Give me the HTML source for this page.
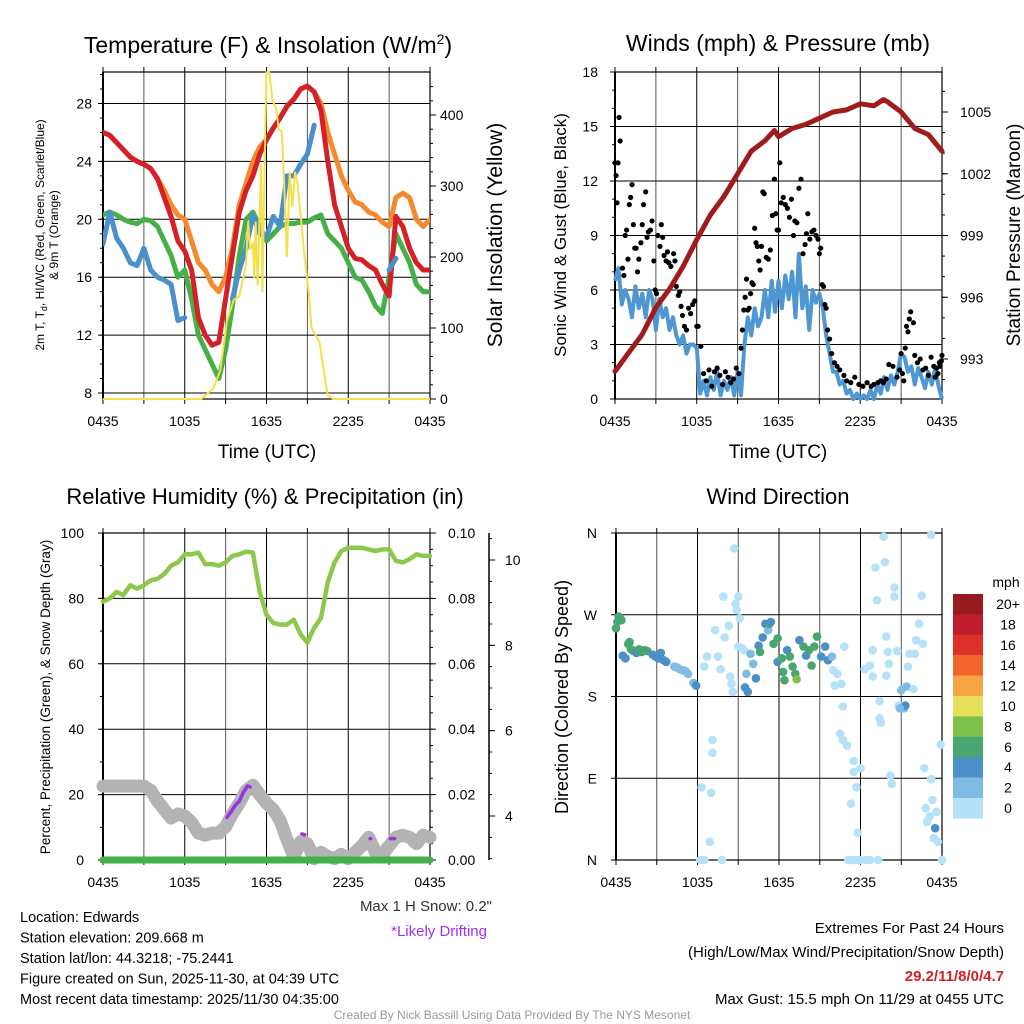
<!DOCTYPE html>
<html><head><meta charset="utf-8"><style>
body{margin:0;background:#fff;}
svg{display:block;font-family:"Liberation Sans",sans-serif;}
</style></head><body>
<svg id="c" width="1024" height="1024" viewBox="0 0 1024 1024" xmlns="http://www.w3.org/2000/svg"></svg>
<script>
// ---------- DATA ----------
const tempTimesHalfHour = [0,0.5,1,1.5,2,2.5,3,3.5,4,4.5,5,5.5,6,6.5,7,7.5,8,8.5,9,9.5,10,10.5,11,11.5,12,12.5,13,13.5,14,14.5,15,15.5,16,16.5,17,17.5,18,18.5,19,19.5,20,20.5,21,21.5,22,22.5,23,23.5,24];
const temp2m = [26,25.8,25.3,24.8,24.3,24.0,23.8,23.5,22.8,21.5,20.2,18.5,17.8,16.5,13.2,12,11.3,11.5,14.5,17.5,20.5,22,23,24.5,25.5,26.3,27,27.8,28.3,29,29.2,28.8,27.5,24,21,19.5,18,17.3,17.2,16.8,16.5,15.5,14.7,20.2,19.5,18,17,16.5,16.5];
const temp9m = [26,25.8,25.3,24.8,24.3,24.0,23.8,23.5,22.8,22,21,20.3,20,18.5,17,16.5,15.5,15,16,18,21,22.5,24,25,25.5,26.3,27,27.8,28.3,29,29.2,28.8,28,26,24.5,23,22,21.2,21,20.5,20.3,19.8,19.5,21.5,21.8,21.5,20,19.5,20];
const dewpoint = [20.3,20.5,20.3,20,19.8,19.7,20,19.9,19.5,18.5,17.5,16,16.5,14.5,12,11,10,9,11,14,17.5,20,20.5,19.5,18.5,19,19.5,19.7,19.7,19.8,19.8,20.1,20.3,19,18.5,18,17,16,15.8,15,14,13.5,16,19,18,17,15.5,15,15];
const windChill = [18.3,20.5,18.7,18,17,16.8,18,16.5,16,15.8,15.5,13,13.2,null,null,null,null,null,null,14.5,16.5,18,20.3,19,18.8,20.2,19.5,23,23,23.8,24.5,26.5,null,null,null,null,null,null,null,null,null,null,16.5,17.3,null,null,null,null,null];
const solTimes = [0,7.2,8.1,8.6,9.1,9.6,10.0,10.5,10.65,10.8,11.0,11.1,11.2,11.35,11.6,11.7,11.85,12.0,12.2,12.45,12.7,12.9,13.1,13.2,13.3,13.5,13.7,13.9,14.1,14.3,14.6,14.8,15.1,15.3,15.6,15.9,16.2,16.5,16.9,24];
const solVals  = [0,0,15,40,110,140,145,190,250,210,220,170,250,160,330,150,320,460,460,420,410,380,377,350,300,200,320,270,320,300,240,200,150,100,90,80,40,5,0,0];

const windTimes = [0,.25,.5,.75,1,1.25,1.5,1.75,2,2.25,2.5,2.75,3,3.25,3.5,3.75,4,4.25,4.5,4.75,5,5.25,5.5,5.75,6,6.25,6.5,6.75,7,7.25,7.5,7.75,8,8.25,8.5,8.75,9,9.25,9.5,9.75,10,10.25,10.5,10.75,11,11.25,11.5,11.75,12,12.25,12.5,12.75,13,13.25,13.5,13.75,14,14.25,14.5,14.75,15,15.25,15.5,15.75,16,16.25,16.5,16.75,17,17.25,17.5,17.75,18,18.25,18.5,18.75,19,19.25,19.5,19.75,20,20.25,20.5,20.75,21,21.25,21.5,21.75,22,22.25,22.5,22.75,23,23.25,23.5,23.75,24];
const windSpeed = [6.5,7.2,5.2,6,5.5,4.5,6.2,5,5.8,4.5,6,5.5,3.8,5.5,4.5,5,3.8,4.5,3.5,3,3.5,2.5,3,3,2.8,0.3,1,0.2,1.2,0.5,1.5,0.2,1,0.5,1.2,0.2,1.5,0.2,3,4.5,3.5,5,4,4.5,6,4.5,6.5,4.8,6.5,5,6.8,5.5,7,4.5,8,5,6.2,3.8,6,5.3,5.8,5,3.5,2.5,1.5,1.5,0.8,1,0.3,0.5,0,0.3,0,0.2,0,0.5,0,0.8,0.3,1.2,0.5,1.3,0.8,1.5,2.5,2.3,1.5,1.8,0.8,1.7,1.2,0.6,1.5,0.8,1.7,0.7,0];
const gustTimes = [0,0.08,0.15,0.22,0.3,0.38,0.55,0.65,0.75,0.85,0.95,1.05,1.15,1.25,1.35,1.45,1.55,1.65,1.75,1.9,2.0,2.1,2.25,2.35,2.45,2.6,2.72,2.85,2.95,3.05,3.15,3.3,3.4,3.5,3.6,3.75,3.85,3.95,4.1,4.3,4.4,4.5,4.65,4.75,4.85,4.95,5.1,5.25,5.4,5.55,5.7,5.85,6.0,6.1,6.3,6.5,6.7,6.9,7.1,7.3,7.5,7.7,7.9,8.1,8.3,8.5,8.7,8.9,9.1,9.25,9.35,9.45,9.55,9.65,9.75,9.85,9.95,10.05,10.15,10.25,10.35,10.45,10.55,10.65,10.75,10.85,10.95,11.1,11.25,11.4,11.55,11.7,11.8,11.9,12.0,12.1,12.2,12.35,12.5,12.65,12.8,12.95,13.1,13.2,13.35,13.5,13.65,13.8,13.95,14.05,14.15,14.3,14.45,14.6,14.75,14.9,15.0,15.1,15.2,15.3,15.4,15.5,15.6,15.75,15.9,16.1,16.3,16.5,16.8,17.0,17.3,17.6,17.9,18.2,18.5,18.8,19.0,19.3,19.5,19.7,19.9,20.1,20.4,20.7,20.9,21.0,21.1,21.2,21.3,21.4,21.5,21.6,21.7,21.9,22.0,22.2,22.4,22.6,22.8,23.0,23.2,23.4,23.5,23.6,23.7,23.8,23.85,23.95,24.0];
const gustVals  = [13,12.3,10.8,13,15.5,14.2,7.2,6.8,9,9.3,7.7,10.7,11.1,11.8,9.6,8.3,8.3,7,7.7,8.6,9.6,10.7,11.4,8.9,9.2,9.3,9.8,7.6,6,5.8,9,8.4,9.6,8.9,7.9,7.6,8.1,7.5,7.3,8,7.6,6.2,5.7,5.9,5.1,4.6,4,3.8,5,4.7,5.2,5.4,4,4,2.9,1.4,1,1.6,0.7,1.5,1.7,1.3,0.8,1.5,1.2,0.9,1.1,1.7,1.4,2.8,3.8,4.9,5.6,6.6,4.9,5,5.8,6.4,6.3,9.4,8.6,8.4,7.6,7.1,8.4,11.4,11.3,7.8,7.7,8.2,10.1,12.1,10.2,9.3,9.3,13,10.8,11.1,10.7,10.5,10,11,9,9.8,9.7,11.6,12.1,8,8.5,9.1,10.2,8.8,9.2,9.3,9,8.8,8,8.3,6.3,6.2,5.2,5,3.8,3.3,2.5,2,1.8,1.6,1.3,1.0,0.9,1.2,0.8,0.7,0.9,0.7,0.8,0.9,1,0.9,1.1,1.9,1.8,1.2,1.6,2.5,1.4,1.0,2.8,4,3.7,4.4,4.8,4.2,2.4,2,2.2,1.6,1.7,1.3,2.3,1.8,1.2,1.7,1.4,2,1.8,2.1,2.4,3.2,2.4,1.4,0.8];
const presTimes = [0,1,2,3,4,5,6,7,8,9,10,11,11.7,12,13,14,15,16,17,18,19,19.7,20,21,22,23,24];
const presVals  = [992.4,993.3,994.2,995.5,996.4,997.5,998.8,1000,1000.9,1002,1003.1,1003.6,1004.1,1003.8,1004.2,1004.4,1004.7,1005,1005.1,1005.4,1005.3,1005.6,1005.5,1005,1004.2,1003.9,1003.1];

const rhVals = [79,80,82,81,84,83,84,85.5,86,87.5,90,91,93.5,93.5,94,90.5,90.5,90,91,93,93.5,94.3,94,82,75,72.5,72,72,73.5,69,66.5,71,74,85,91,94.5,95.5,95.5,95.5,95,94.5,95,95,91.5,91,92,93.5,93,93];
const snowVals = [4.7,4.7,4.7,4.7,4.7,4.7,4.7,4.6,4.35,4.15,3.95,4.05,4.0,3.85,3.6,3.55,3.6,3.6,3.75,4.05,4.3,4.6,4.72,4.5,4.3,4.15,3.9,3.45,3.05,3.4,3.35,3.0,3.15,3.05,3.0,3.1,3.0,3.15,3.3,3.5,3.15,3.1,3.3,3.5,3.55,3.5,3.35,3.55,3.5];
const precipVals = [0,0,0,0,0,0,0,0,0,0,0,0,0,0,0,0,0,0,0,0,0,0,0,0,0,0,0,0,0,0,0,0,0,0,0,0,0,0,0,0,0,0,0,0,0,0,0,0,0];
const driftSeg1T = [9.1,9.4,9.7,10.0,10.3,10.6,10.8];
const driftSeg1V = [3.97,4.1,4.25,4.35,4.55,4.7,4.68];
const driftSeg2T = [14.6,14.8];
const driftSeg2V = [3.58,3.56];
const driftSeg3T = [19.6];
const driftSeg3V = [3.47];
const driftSeg4T = [21.1,21.4];
const driftSeg4V = [3.47,3.47];

const dirTimes = [
0.0,0.1,0.2,0.3,0.4,0.5,0.7,0.9,1.0,1.1,
1.3,1.5,1.7,1.9,2.1,2.3,2.7,2.9,3.1,3.3,
3.5,3.7,4.3,4.5,4.7,4.9,5.1,5.3,5.7,5.9,
6.3,7.0,6.9,6.2,6.5,7.8,7.1,7.1,6.5,6.7,
7.3,7.5,7.7,7.9,8.0,8.3,8.4,8.5,8.6,8.7,
8.8,8.9,9.0,9.1,9.0,9.3,9.4,9.5,9.6,9.7,
9.9,10.1,10.3,10.5,10.6,10.8,11.0,11.2,11.3,11.4,
11.6,11.9,11.9,12.2,12.3,12.4,12.6,12.8,13.0,13.2,
13.3,13.5,13.8,14.0,14.2,14.4,14.6,14.8,15.1,15.4,
15.6,15.9,16.0,16.3,16.1,16.6,16.8,16.7,16.5,16.7,
17.0,17.5,17.5,18.0,17.7,17.3,17.8,17.1,17.4,17.7,
18.0,18.4,18.7,19.3,18.3,18.7,18.9,18.9,19.1,19.2,
19.4,19.4,19.5,19.7,19.8,19.9,19.9,20.0,20.1,20.2,
20.3,20.5,20.5,20.7,20.8,21.0,21.2,21.3,21.4,20.9,
21.5,21.6,21.9,22.0,22.1,22.3,22.5,22.6,22.7,22.8,
22.9,23.1,23.2,23.2,23.3,23.5,23.6,23.7,23.9,24.0,
23.4,17.2,17.9];
const dirVals = [
255,262,268,266,264,225,222,238,240,232,
230,228,232,229,231,230,226,224,222,228,
220,218,213,212,210,209,208,205,195,192,
80,74,20,0,0,0,132,118,213,224,
253,224,210,290,245,258,202,194,185,343,
282,275,290,266,235,233,231,190,205,185,
227,216,200,236,229,245,260,253,260,262,
238,244,218,222,207,198,231,224,213,205,
199,242,235,225,231,214,235,246,224,235,
220,224,209,205,192,194,235,169,139,132,
126,109,97,101,80,62,30,0,0,0,
0,0,0,0,210,214,202,231,322,286,
175,156,151,356,328,246,203,229,216,93,
84,300,290,230,170,187,167,170,191,167,
213,227,188,227,242,260,291,238,101,57,
42,48,358,89,66,35,53,20,127,0,
24,0,0];
const dirSpeeds = [
6.5,6.5,6.5,6.5,6.5,4.5,4.5,6.5,6.5,6.5,
6.5,5,6.5,6.5,6.5,6.5,4.5,4.5,4.5,4.5,
4.5,4.5,3,3,3,3,3,3,3.5,4.5,
1,1,1,1,1,1,1,1,1,1,
1,1,1,1,1,1,1,1,1,1,
1,1,1,1,1,1,1,4.5,3,4.5,
3,3,4.5,4.5,6.5,4.5,4.5,3,6.5,4.5,
6.5,6.5,4.5,6.5,6.5,6.5,4.5,6.5,6.5,6.5,
8.5,4.5,6.5,4.5,6.5,6.5,6.5,6.5,4.5,4.5,
4,3.5,1,1,1,1,1,1,1,1,
1,1,1,1,1,1,1,1,1,1,
1,1,1,1,1,1,1,1,1,1,
1,1,1,1,1,1,1,1,1,1,
1,1,1,1,1,3,3,4.5,3,3,
1,1,1,1,1,1,1,1,1,1,
1,1,1,1,1,4.5,1,1,1,1,
1,1,1];

const cbLabels = ["20+","18","16","14","12","10","8","6","4","2","0"];
const cbColors = ["#951b1e","#be1e2d","#dd3128","#f0642b","#f6a544","#e6e05a","#7ec04a","#4aa670","#4a8fc5","#7fbbe4","#b5e2f8"];

// ---------- HELPERS ----------
const NS="http://www.w3.org/2000/svg";
const svg=document.getElementById('c');
function el(tag,attrs,parent){const e=document.createElementNS(NS,tag);for(const k in attrs)e.setAttribute(k,attrs[k]);(parent||svg).appendChild(e);return e;}
function txt(s,x,y,size,anchor,fill,parent,extra){const t=el('text',Object.assign({x:x,y:y,'font-size':size,'text-anchor':anchor||'middle',fill:fill||'#000'},extra||{}),parent);t.textContent=s;return t;}
function scale(d0,d1,r0,r1){return v=>r0+(v-d0)/(d1-d0)*(r1-r0);}
function pathD(ts,vs,xf,yf){let d='',pen=false;for(let i=0;i<ts.length;i++){if(vs[i]==null){pen=false;continue;}d+=(pen?'L':'M')+xf(ts[i]).toFixed(1)+','+yf(vs[i]).toFixed(1);pen=true;}return d;}
function speedColor(s){const idx=Math.min(10,Math.max(0,10-Math.floor(s/2)));return cbColors[idx];}
const xLabels=["0435","1035","1635","2235","0435"];

function frame(g,x0,x1,y0,y1,yTicks,yf,yLabels,leftLabelX){
  for(let h=0;h<=24;h+=3){const x=scale(0,24,x0,x1)(h);
    el('line',{x1:x,x2:x,y1:y0,y2:y1,stroke:(h%6==0)?'#000':'#555','stroke-width':1},g);
    el('line',{x1:x,x2:x,y1:y0-5,y2:y0,stroke:'#000','stroke-width':1},g);
    el('line',{x1:x,x2:x,y1:y1,y2:y1+5,stroke:'#000','stroke-width':1},g);}
  yTicks.forEach((v,i)=>{const y=yf(v);
    el('line',{x1:x0-5,x2:x1,y1:y,y2:y,stroke:'#000','stroke-width':1},g);
    if(yLabels)txt(yLabels[i],leftLabelX,y+5,14,'end','#000',g);});
  el('rect',{x:x0,y:y0,width:x1-x0,height:y1-y0,fill:'none',stroke:'#000','stroke-width':1.2},g);
  el('line',{x1:x0,x2:x0,y1:y0,y2:y1,stroke:'#000','stroke-width':2},g);
  for(let i=0;i<5;i++){const x=scale(0,24,x0,x1)(i*6);
    const t=txt(xLabels[i],x,y1+27,14,'middle','#000',g);
    
    }
}

// ---------- PANEL 1 ----------
(function(){
const g=el('g',{});
const x0=103,x1=430,y0=72,y1=399;
const xf=scale(0,24,x0,x1), yT=scale(8,28,393,103.5), yS=scale(0,400,399,115);
const tt=el('text',{x:268,y:53,'font-size':23,'text-anchor':'middle',},g);
tt.innerHTML='Temperature (F) &amp; Insolation (W/m<tspan dy="-9" font-size="14">2</tspan><tspan dy="9">)</tspan>';
frame(g,x0,x1,y0,y1,[8,12,16,20,24,28],yT,["8","12","16","20","24","28"],92);
for(let v=8;v<=30;v+=1){el('line',{x1:x0-3,x2:x0,y1:yT(v),y2:yT(v),stroke:'#000'},g);}
[0,100,200,300,400].forEach(v=>{el('line',{x1:x1,x2:x1+6,y1:yS(v),y2:yS(v),stroke:'#000'},g);txt(String(v),x1+10,yS(v)+5,14,'start','#000',g);});
for(let v=0;v<=440;v+=20){el('line',{x1:x1,x2:x1+3,y1:yS(v),y2:yS(v),stroke:'#000'},g);}
const clip=el('clipPath',{id:'cp1'},g);el('rect',{x:x0,y:y0-2,width:x1-x0,height:y1-y0+4},clip);
const series=[[temp9m,'#f5892e','line-9m-temp'],[dewpoint,'#45b048','line-dewpoint'],[temp2m,'#d42027','line-2m-temp'],[windChill,'#4a90cc','line-wind-chill']];
series.forEach(s=>{el('path',{d:pathD(tempTimesHalfHour,s[0],xf,yT),fill:'none',stroke:s[1],'stroke-width':5,'stroke-linejoin':'round','stroke-linecap':'round','clip-path':'url(#cp1)',},g);});
el('path',{d:pathD(solTimes,solVals,xf,yS),fill:'none',stroke:'#f6e04a','stroke-width':2,'clip-path':'url(#cp1)',},g);
const ly=el('text',{'font-size':12,'text-anchor':'middle','transform':'translate(44,235) rotate(-90)',},g);
ly.innerHTML='<tspan x="0" y="0">2m T, T<tspan font-size="9" dy="3">d</tspan><tspan dy="-3">, HI/WC (Red, Green, Scarlet/Blue)</tspan></tspan><tspan x="0" y="14">&amp; 9m T (Orange)</tspan>';
txt('Solar Insolation (Yellow)',0,0,21,'middle','#000',g,{transform:'translate(502,235) rotate(-90)',});
txt('Time (UTC)',267,458,19,'middle','#000',g,{});
})();

// ---------- PANEL 2 ----------
(function(){
const g=el('g',{});
const x0=615,x1=942,y0=72,y1=399;
const xf=scale(0,24,x0,x1), yW=scale(0,18,399,72), yP=scale(993,1005,359,112);
txt('Winds (mph) & Pressure (mb)',778,51,23,'middle','#000',g,{});
frame(g,x0,x1,y0,y1,[0,3,6,9,12,15,18],yW,["0","3","6","9","12","15","18"],598);
for(let v=0;v<=18;v+=1){el('line',{x1:x0-3,x2:x0,y1:yW(v),y2:yW(v),stroke:'#000'},g);}
[993,996,999,1002,1005].forEach(v=>{el('line',{x1:x1,x2:x1+6,y1:yP(v),y2:yP(v),stroke:'#000'},g);txt(String(v),x1+18,yP(v)+5,14,'start','#000',g);});
for(let v=992;v<=1006;v+=1){el('line',{x1:x1,x2:x1+3,y1:yP(v),y2:yP(v),stroke:'#000'},g);}
el('path',{d:pathD(windTimes,windSpeed,xf,yW),fill:'none',stroke:'#4f97d2','stroke-width':4,'stroke-linejoin':'round',},g);
const gg=el('g',{},g);
gustTimes.forEach((t,i)=>{const c=el('circle',{cx:xf(t),cy:yW(gustVals[i]),r:2.6,fill:'#000'},gg);

});
el('path',{d:pathD(presTimes,presVals,xf,yP),fill:'none',stroke:'#a01c1c','stroke-width':5,'stroke-linejoin':'round','stroke-linecap':'round',},g);
txt('Sonic Wind & Gust (Blue, Black)',0,0,17,'middle','#000',g,{transform:'translate(566,235) rotate(-90)',});
txt('Station Pressure (Maroon)',0,0,19,'middle','#000',g,{transform:'translate(1020,235) rotate(-90)',});
txt('Time (UTC)',778,458,19,'middle','#000',g,{});
})();

// ---------- PANEL 3 ----------
(function(){
const g=el('g',{});
const x0=103,x1=430,y0=533,y1=860;
const xf=scale(0,24,x0,x1), yR=scale(0,100,860,533), yS=scale(4,10,816,560);
txt('Relative Humidity (%) & Precipitation (in)',265,504,22,'middle','#000',g,{});
frame(g,x0,x1,y0,y1,[0,20,40,60,80,100],yR,["0","20","40","60","80","100"],84);
for(let v=0;v<=100;v+=10){el('line',{x1:x0-3,x2:x0,y1:yR(v),y2:yR(v),stroke:'#000'},g);}
["0.00","0.02","0.04","0.06","0.08","0.10"].forEach((s,i)=>{const y=yR(i*20);el('line',{x1:x1,x2:x1+6,y1:y,y2:y,stroke:'#000'},g);txt(s,x1+18,y+5,14,'start','#000',g);});
for(let v=0;v<=100;v+=5){el('line',{x1:x1,x2:x1+3,y1:yR(v),y2:yR(v),stroke:'#000'},g);}
el('line',{x1:489,x2:489,y1:y0,y2:y1,stroke:'#000','stroke-width':1.5,},g);
[4,6,8,10].forEach(v=>{el('line',{x1:489,x2:495,y1:yS(v),y2:yS(v),stroke:'#000'},g);txt(String(v),505,yS(v)+5,14,'start','#000',g);});
for(let v=3;v<=10.6;v+=0.5){el('line',{x1:489,x2:492,y1:yS(v),y2:yS(v),stroke:'#000'},g);}
el('path',{d:pathD(tempTimesHalfHour,snowVals,xf,yS),fill:'none',stroke:'#b3b3b3','stroke-width':13,'stroke-linejoin':'round','stroke-linecap':'round',},g);
[[driftSeg1T,driftSeg1V],[driftSeg2T,driftSeg2V],[driftSeg3T,driftSeg3V],[driftSeg4T,driftSeg4V]].forEach(s=>{
  const p=el('path',{d:pathD(s[0],s[1],xf,yS)+(s[0].length==1?'l0.5,0':''),fill:'none',stroke:'#9b30e6','stroke-width':3.5,'stroke-linecap':'round'},g);
  
  });
el('path',{d:pathD(tempTimesHalfHour,precipVals,xf,v=>yR(v*1000)),fill:'none',stroke:'#45b048','stroke-width':7,'stroke-linecap':'round',},g);
el('path',{d:pathD(tempTimesHalfHour,rhVals,xf,yR),fill:'none',stroke:'#8cc84b','stroke-width':4.5,'stroke-linejoin':'round','stroke-linecap':'round',},g);
txt('Percent, Precipitation (Green), & Snow Depth (Gray)',0,0,13.5,'middle','#000',g,{transform:'translate(50,697) rotate(-90)',});
txt('Max 1 H Snow: 0.2"',492,911,15,'end','#333',g,{});
txt('*Likely Drifting',487,936,15,'end','#a030f0',g,{});
})();

// ---------- PANEL 4 ----------
(function(){
const g=el('g',{});
const x0=616,x1=942,y0=533,y1=860;
const xf=scale(0,24,x0,x1), yD=scale(0,360,860,533);
txt('Wind Direction',778,504,22,'middle','#000',g,{});
frame(g,x0,x1,y0,y1,[0,90,180,270,360],yD,["N","E","S","W","N"],597);
const dg=el('g',{},g);
dirTimes.forEach((t,i)=>{const c=el('circle',{cx:xf(t),cy:yD(dirVals[i]),r:4.3,fill:speedColor(dirSpeeds[i])},dg);

});
txt('Direction (Colored By Speed)',0,0,18,'middle','#000',g,{transform:'translate(568,697) rotate(-90)',});
const cb=el('g',{},g);
txt('mph',1006,587,14,'middle','#000',cb);
cbColors.forEach((c,i)=>{const y=594+i*20.4;
  const r=el('rect',{x:953,y:y,width:30,height:20.6,fill:c},cb);
  
  
  txt(cbLabels[i],1008,y+15,14,'middle','#000',cb);});
})();

// ---------- FOOTER ----------
(function(){
const g=el('g',{});
const lines=["Location: Edwards","Station elevation: 209.668 m","Station lat/lon: 44.3218; -75.2441","Figure created on Sun, 2025-11-30, at 04:39 UTC","Most recent data timestamp: 2025/11/30 04:35:00"];
lines.forEach((s,i)=>txt(s,20,922+i*20.5,14.5,'start','#000',g));
txt('Extremes For Past 24 Hours',1004,933,15,'end','#000',g);
txt('(High/Low/Max Wind/Precipitation/Snow Depth)',1004,957,15,'end','#000',g);
txt('29.2/11/8/0/4.7',1004,981,15,'end','#d42027',g,{'font-weight':'bold',});
txt('Max Gust: 15.5 mph On 11/29 at 0455 UTC',1004,1004,15,'end','#000',g);
txt('Created By Nick Bassill Using Data Provided By The NYS Mesonet',512,1019,12,'middle','#999',g,{});
})();
</script>
</body></html>
